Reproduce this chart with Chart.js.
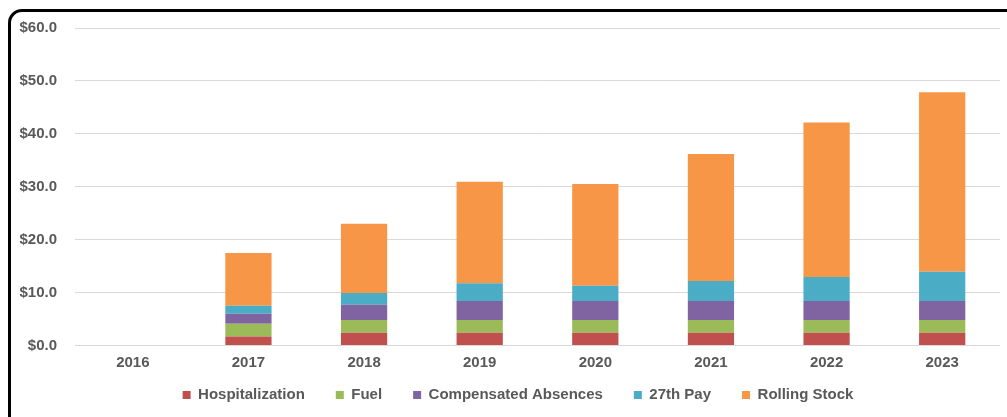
<!DOCTYPE html>
<html>
<head>
<meta charset="utf-8">
<script src="https://cdn.jsdelivr.net/npm/chart.js@4/dist/chart.umd.min.js"></script>
<style>
  html, body { margin: 0; padding: 0; background: #fff; overflow: hidden; }
  #wrap { position: relative; width: 1007px; height: 417px; }
  #marco { position: absolute; left: 8px; top: 9px; width: 1020px; height: 420px;
           border: 3px solid #000; border-radius: 14px; pointer-events: none; }
</style>
</head>
<body>
<div id="wrap">
  <canvas id="grafico"></canvas>
  <div id="marco"></div>
</div>
<script>
const anios = ['2016', '2017', '2018', '2019', '2020', '2021', '2022', '2023'];
const hospitalizacion = [0, 1.7, 2.4, 2.4, 2.4, 2.4, 2.4, 2.4];
const combustible = [0, 2.4, 2.4, 2.4, 2.4, 2.4, 2.4, 2.4];
const ausencias = [0, 1.9, 2.9, 3.6, 3.6, 3.6, 3.6, 3.6];
const pago27 = [0, 1.5, 2.2, 3.35, 2.9, 3.8, 4.55, 5.55];
const materialRodante = [0, 10.0, 13.1, 19.2, 19.2, 24.0, 29.2, 33.9];
const ticksY = [0, 10, 20, 30, 40, 50, 60];

const gris = '#595959';
const fuente = { family: '"Liberation Sans", Arial, sans-serif', size: 15, weight: 'bold' };

function serie(label, data, color) {
    return {
        label: label,
        data: data,
        backgroundColor: color,
        borderWidth: 0,
        barPercentage: 0.4,
        categoryPercentage: 1.0
    };
}

// mueve la leyenda: mas cerca de los años y un poco a la derecha
const moverLeyenda = {
    id: 'moverLeyenda',
    afterLayout(chart) {
        const ley = chart.legend;
        ley.top -= 16;
        ley.bottom -= 16;
        ley.left += 18;
        ley.right += 18;
    }
};

const ctx = document.getElementById('grafico').getContext('2d');

new Chart(ctx, {
    type: 'bar',
    data: {
        labels: anios,
        datasets: [
            serie('Hospitalization', hospitalizacion, '#C0504D'),
            serie('Fuel', combustible, '#9BBB59'),
            serie('Compensated Absences', ausencias, '#8064A2'),
            serie('27th Pay', pago27, '#4BACC6'),
            serie('Rolling Stock', materialRodante, '#F79646')
        ]
    },
    options: {
        responsive: true,
        maintainAspectRatio: false,
        animation: false,
        layout: { padding: { left: 0, right: 7, top: 28, bottom: -11.5 } },
        scales: {
            x: {
                stacked: true,
                afterFit: scale => { scale.height = 27; },
                grid: { display: false, drawTicks: false },
                border: { display: false },
                ticks: { color: gris, font: fuente, padding: 8.5 }
            },
            y: {
                stacked: true,
                min: 0,
                max: 60,
                afterBuildTicks: scale => { scale.ticks = ticksY.map(v => ({ value: v })); },
                afterFit: scale => { scale.width = 75; },
                grid: { color: '#d9d9d9', drawTicks: false },
                border: { display: false },
                ticks: {
                    color: gris,
                    font: fuente,
                    padding: 18,
                    callback: v => '$' + Number(v).toFixed(1)
                }
            }
        },
        plugins: {
            tooltip: { enabled: false },
            legend: {
                position: 'bottom',
                labels: {
                    color: gris,
                    font: fuente,
                    boxWidth: 8,
                    boxHeight: 8,
                    padding: 31
                }
            }
        }
    },
    plugins: [moverLeyenda]
});
</script>
</body>
</html>
